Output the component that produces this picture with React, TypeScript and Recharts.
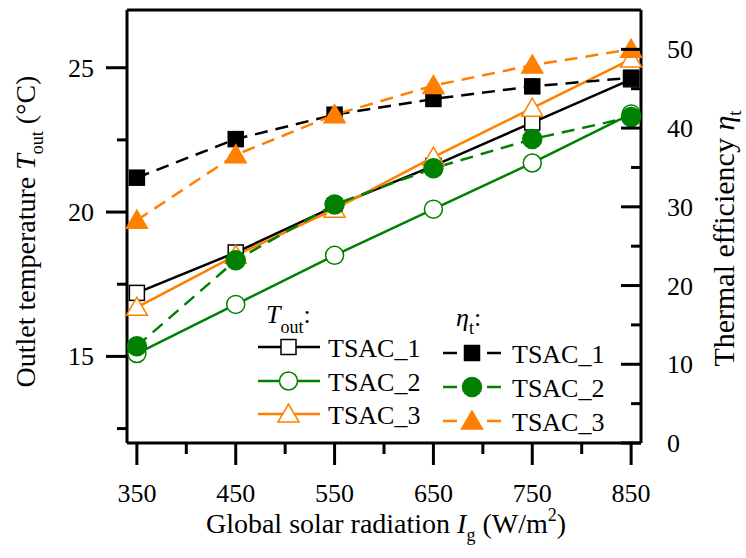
import { LineChart, Line, XAxis, YAxis, ReferenceLine } from "recharts";

const radiation = [350, 450, 550, 650, 750, 850];
const toutTsac1 = [17.2, 18.6, 20.2, 21.6, 23.1, 24.6];
const toutTsac2 = [15.1, 16.8, 18.5, 20.1, 21.7, 23.4];
const toutTsac3 = [16.7, 18.5, 20.1, 21.9, 23.6, 25.3];
const etaTsac1 = [33.7, 38.6, 41.7, 43.7, 45.3, 46.4];
const etaTsac2 = [12.3, 23.2, 30.3, 34.9, 38.6, 41.4];
const etaTsac3 = [28.3, 36.6, 41.7, 45.4, 48.0, 50.0];

const xTicks = [350, 400, 450, 500, 550, 600, 650, 700, 750, 800, 850];
const leftTicks = [12.5, 15, 17.5, 20, 22.5, 25];
const rightTicks = [0, 5, 10, 15, 20, 25, 30, 35, 40, 45, 50];
const seriesNames = ["TSAC_1", "TSAC_2", "TSAC_3"];

const FONT = '"Liberation Serif", "DejaVu Serif", "Times New Roman", serif';
const txt = { fontFamily: FONT };
const GREEN = "#008000";
const ORANGE = "#ff8000";

const data = radiation.map((x, i) => ({
  x,
  t1: toutTsac1[i],
  t2: toutTsac2[i],
  t3: toutTsac3[i],
  e1: etaTsac1[i],
  e2: etaTsac2[i],
  e3: etaTsac3[i],
}));

type Mark = "square" | "circle" | "triangle";

function Marker({ kind, cx, cy, color, filled }: { kind: Mark; cx: number; cy: number; color: string; filled: boolean }) {
  const fill = filled ? color : "#fff";
  if (kind === "square") {
    const s = 15;
    return <rect x={cx - s / 2} y={cy - s / 2} width={s} height={s} fill={fill} stroke={color} strokeWidth={1.5} />;
  }
  if (kind === "circle") {
    return <circle cx={cx} cy={cy} r={filled ? 9.5 : 9} fill={fill} stroke={color} strokeWidth={1.5} />;
  }
  return (
    <polygon
      points={`${cx},${cy - 10} ${cx - 10.5},${cy + 8} ${cx + 10.5},${cy + 8}`}
      fill={fill}
      stroke={color}
      strokeWidth={1.5}
    />
  );
}

const dotFor = (kind: Mark, color: string, filled: boolean) => (p: any) => {
  if (p.cx == null || p.cy == null) return <g key={p.index} />;
  return (
    <g key={`${kind}-${filled}-${p.index}`}>
      <Marker kind={kind} cx={p.cx} cy={p.cy} color={color} filled={filled} />
    </g>
  );
};

function LeftTick({ x, y, payload }: any) {
  const v = payload.value;
  const major = v % 5 === 0;
  return (
    <g>
      <line x1={x - (major ? 21 : 10)} x2={x} y1={y} y2={y} stroke="#000" strokeWidth={3} />
      {major && (
        <text x={x - 33} y={y + 9} textAnchor="end" fontSize={26} style={txt} fill="#000">
          {v}
        </text>
      )}
    </g>
  );
}

function RightTick({ x, y, payload }: any) {
  const v = payload.value;
  const major = v % 10 === 0;
  return (
    <g>
      <line x1={x - (major ? 20 : 10)} x2={x} y1={y} y2={y} stroke="#000" strokeWidth={3} />
      {major && (
        <text x={x + 26} y={y + 9} textAnchor="start" fontSize={26} style={txt} fill="#000">
          {v}
        </text>
      )}
    </g>
  );
}

function BottomTick({ x, y, payload }: any) {
  const v = payload.value;
  const major = (v - 350) % 100 === 0;
  return (
    <g>
      <line x1={x} x2={x} y1={y} y2={y + (major ? 22 : 11)} stroke="#000" strokeWidth={3} />
      {major && (
        <text x={x} y={y + 59} textAnchor="middle" fontSize={26} style={txt} fill="#000">
          {v}
        </text>
      )}
    </g>
  );
}

function LeftTitle({ viewBox }: any) {
  const cx = 35;
  const cy = viewBox.y + viewBox.height / 2 + 5;
  return (
    <text
      x={cx}
      y={cy}
      transform={`rotate(-90 ${cx} ${cy})`}
      textAnchor="middle"
      fontSize={28}
      style={txt}
      fill="#000"
    >
      Outlet temperature <tspan fontStyle="italic">T</tspan>
      <tspan fontSize={18} dy={8}>out</tspan>
      <tspan dy={-8}> (°C)</tspan>
    </text>
  );
}

function RightTitle({ viewBox }: any) {
  const cx = 734;
  const cy = viewBox.y + viewBox.height / 2 + 12;
  return (
    <text
      x={cx}
      y={cy}
      transform={`rotate(-90 ${cx} ${cy})`}
      textAnchor="middle"
      fontSize={30}
      style={txt}
      fill="#000"
    >
      Thermal efficiency <tspan fontStyle="italic">η</tspan>
      <tspan fontSize={19} dy={7}>t</tspan>
    </text>
  );
}

function BottomTitle({ viewBox }: any) {
  const cx = viewBox.x + viewBox.width / 2 + 2;
  return (
    <text x={cx} y={533} textAnchor="middle" fontSize={28} style={txt} fill="#000">
      Global solar radiation <tspan fontStyle="italic">I</tspan>
      <tspan fontSize={18} dy={8}>g</tspan>
      <tspan dy={-8}> (W/m</tspan>
      <tspan fontSize={18} dy={-12}>2</tspan>
      <tspan dy={12}>)</tspan>
    </text>
  );
}

const toutStyle: { color: string; kind: Mark }[] = [
  { color: "#000", kind: "square" },
  { color: GREEN, kind: "circle" },
  { color: ORANGE, kind: "triangle" },
];

function ChartLegend() {
  const col1Rows = [347, 381, 414];
  const col2Rows = [353, 387, 421];
  return (
    <svg
      width={746}
      height={558}
      style={{ position: "absolute", left: 0, top: 0, pointerEvents: "none" }}
    >
      <text x={266} y={323} fontSize={26} style={txt} fill="#000">
        <tspan fontStyle="italic">T</tspan>
        <tspan fontSize={18} dy={10}>out</tspan>
        <tspan dy={-10}>:</tspan>
      </text>
      <text x={456} y={326} fontSize={26} style={txt} fill="#000">
        <tspan fontStyle="italic">η</tspan>
        <tspan fontSize={18} dy={8}>t</tspan>
        <tspan dy={-8}>:</tspan>
      </text>
      {seriesNames.map((name, i) => {
        const s = toutStyle[i];
        const y1 = col1Rows[i];
        const y2 = col2Rows[i];
        return (
          <g key={name}>
            <line x1={258} x2={320} y1={y1} y2={y1} stroke={s.color} strokeWidth={2.5} />
            <Marker kind={s.kind} cx={288.5} cy={y1} color={s.color} filled={false} />
            <text x={328} y={y1 + 10} fontSize={26} style={txt} fill="#000">
              {name}
            </text>
            <line x1={443} x2={457} y1={y2} y2={y2} stroke={s.color} strokeWidth={2.5} />
            <line x1={487} x2={501} y1={y2} y2={y2} stroke={s.color} strokeWidth={2.5} />
            <Marker kind={s.kind} cx={472} cy={y2} color={s.color} filled={true} />
            <text x={512} y={y2 + 10} fontSize={26} style={txt} fill="#000">
              {name}
            </text>
          </g>
        );
      })}
    </svg>
  );
}

export default function App() {
  const axisLine = { stroke: "#000", strokeWidth: 3 };
  return (
    <div style={{ position: "absolute", left: 0, top: 0, width: 746, height: 558, background: "#fff" }}>
      <LineChart width={746} height={558} data={data} margin={{ top: 10, right: 0, bottom: 0, left: 0 }}>
        <XAxis
          dataKey="x"
          type="number"
          domain={[340, 860]}
          ticks={xTicks}
          interval={0}
          height={115}
          axisLine={axisLine}
          tickLine={false}
          tickSize={0}
          tickMargin={0}
          tick={<BottomTick />}
          label={<BottomTitle />}
        />
        <YAxis
          yAxisId="left"
          orientation="left"
          type="number"
          domain={[12, 27]}
          ticks={leftTicks}
          interval={0}
          width={127}
          axisLine={axisLine}
          tickLine={false}
          tickSize={0}
          tickMargin={0}
          tick={<LeftTick />}
          label={<LeftTitle />}
        />
        <YAxis
          yAxisId="right"
          orientation="right"
          type="number"
          domain={[0, 55]}
          ticks={rightTicks}
          interval={0}
          width={105}
          axisLine={axisLine}
          tickLine={false}
          tickSize={0}
          tickMargin={0}
          tick={<RightTick />}
          label={<RightTitle />}
        />
        <ReferenceLine yAxisId="left" y={27} stroke="#000" strokeWidth={3} />
        <Line yAxisId="left" dataKey="t1" stroke="#000" strokeWidth={2.5} dot={dotFor("square", "#000", false)} activeDot={false} isAnimationActive={false} />
        <Line yAxisId="left" dataKey="t2" stroke={GREEN} strokeWidth={2.5} dot={dotFor("circle", GREEN, false)} activeDot={false} isAnimationActive={false} />
        <Line yAxisId="left" dataKey="t3" stroke={ORANGE} strokeWidth={2.5} dot={dotFor("triangle", ORANGE, false)} activeDot={false} isAnimationActive={false} />
        <Line yAxisId="right" dataKey="e1" stroke="#000" strokeWidth={2.5} strokeDasharray="13 8" dot={dotFor("square", "#000", true)} activeDot={false} isAnimationActive={false} />
        <Line yAxisId="right" dataKey="e2" stroke={GREEN} strokeWidth={2.5} strokeDasharray="13 8" dot={dotFor("circle", GREEN, true)} activeDot={false} isAnimationActive={false} />
        <Line yAxisId="right" dataKey="e3" stroke={ORANGE} strokeWidth={2.5} strokeDasharray="13 8" dot={dotFor("triangle", ORANGE, true)} activeDot={false} isAnimationActive={false} />
      </LineChart>
      <ChartLegend />
    </div>
  );
}
